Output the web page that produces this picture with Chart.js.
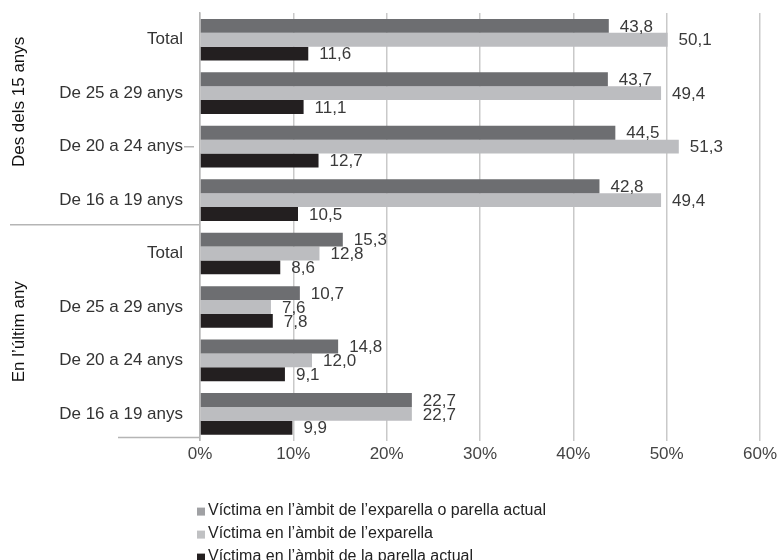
<!DOCTYPE html>
<html>
<head>
<meta charset="utf-8">
<script src="https://cdn.jsdelivr.net/npm/chart.js@4/dist/chart.umd.min.js"></script>
<style>
  html, body { margin: 0; padding: 0; background: #fff; }
</style>
</head>
<body>
<canvas id="myChart" width="777" height="560"></canvas>
<script>
// categories (top to bottom)
const categories = ['Total', 'De 25 a 29 anys', 'De 20 a 24 anys', 'De 16 a 19 anys',
                    'Total', 'De 25 a 29 anys', 'De 20 a 24 anys', 'De 16 a 19 anys'];
const groups = ['Des dels 15 anys', 'En l\u2019últim any'];

const seriesNames = [
    'Víctima en l\u2019àmbit de l\u2019exparella o parella actual',
    'Víctima en l\u2019àmbit de l\u2019exparella',
    'Víctima en l\u2019àmbit de la parella actual'
];
const exOrActual = [43.8, 43.7, 44.5, 42.8, 15.3, 10.7, 14.8, 22.7];
const exOnly     = [50.1, 49.4, 51.3, 49.4, 12.8, 7.6, 12.0, 22.7];
const actual     = [11.6, 11.1, 12.7, 10.5, 8.6, 7.8, 9.1, 9.9];

const xTicks = [0, 10, 20, 30, 40, 50, 60];

const barColors = ['#6d6e71', '#bcbdc0', '#231f20'];
const legendColors = ['#a0a1a4', '#c0c1c3', '#231f20'];
const FONT = "'Liberation Sans', Arial, sans-serif";

function fmt(v) {
    return v.toFixed(1).replace('.', ',');
}

// value labels right of each bar
const valueLabels = {
    id: 'valueLabels',
    afterDatasetsDraw(chart) {
        const c = chart.ctx;
        c.save();
        c.font = '17px ' + FONT;
        c.fillStyle = '#3a3a3a';
        c.textAlign = 'left';
        c.textBaseline = 'middle';
        chart.data.datasets.forEach((ds, i) => {
            const meta = chart.getDatasetMeta(i);
            meta.data.forEach((el, j) => {
                c.fillText(fmt(ds.data[j]), el.x + 11, el.y + 1);
            });
        });
        c.restore();
    }
};

// group titles, separators and legend
const extras = {
    id: 'extras',
    afterDraw(chart) {
        const c = chart.ctx;
        const y = chart.scales.y;
        const area = chart.chartArea;
        c.save();
        // separator between the groups
        const sep = (y.getPixelForValue(3) + y.getPixelForValue(4)) / 2 - 2;
        c.strokeStyle = '#b5b5b5';
        c.lineWidth = 1.5;
        c.beginPath();
        c.moveTo(10, sep);
        c.lineTo(area.left, sep);
        c.moveTo(118, area.bottom - 3);
        c.lineTo(area.left, area.bottom - 3);
        const t = y.getPixelForValue(2);
        c.moveTo(184, t);
        c.lineTo(194, t);
        c.stroke();

        // rotated group titles
        c.font = '17px ' + FONT;
        c.fillStyle = '#111';
        c.textAlign = 'center';
        c.textBaseline = 'middle';
        groups.forEach((g, k) => {
            const mid = (y.getPixelForValue(k * 4) + y.getPixelForValue(k * 4 + 3)) / 2;
            c.save();
            c.translate(19, k === 0 ? mid - 18 : mid - 2);
            c.rotate(-Math.PI / 2);
            c.fillText(g, 0, 0);
            c.restore();
        });

        // legend, one item per line
        c.font = '16px ' + FONT;
        c.textAlign = 'left';
        seriesNames.forEach((name, i) => {
            const ly = area.bottom + 70 + i * 23;
            c.fillStyle = legendColors[i];
            c.fillRect(197, ly - 3, 8, 8);
            c.fillStyle = '#222';
            c.fillText(name, 208, ly);
        });
        c.restore();
    }
};

const ctx = document.getElementById('myChart').getContext('2d');
const myChart = new Chart(ctx, {
    type: 'bar',
    data: {
        labels: categories,
        datasets: [
            { label: seriesNames[0], data: exOrActual, backgroundColor: barColors[0] },
            { label: seriesNames[1], data: exOnly, backgroundColor: barColors[1] },
            { label: seriesNames[2], data: actual, backgroundColor: barColors[2] }
        ]
    },
    options: {
        responsive: false,
        animation: false,
        indexAxis: 'y',
        categoryPercentage: 0.78,
        barPercentage: 1,
        layout: { padding: { top: 13, right: 17, bottom: 91, left: 0 } },
        plugins: {
            legend: { display: false },
            tooltip: { enabled: false }
        },
        scales: {
            x: {
                min: 0,
                max: 60,
                afterBuildTicks: s => { s.ticks = xTicks.map(v => ({ value: v })); },
                afterFit: s => { s.paddingRight = 0; },
                ticks: {
                    callback: v => v + '%',
                    font: { family: FONT, size: 17 },
                    color: '#444',
                    padding: 4
                },
                grid: { color: '#c9c9c9', lineWidth: 1.5, drawTicks: false },
                border: { display: false }
            },
            y: {
                afterFit: s => { s.width = 200; s.paddingTop = 0; s.paddingBottom = 0; },
                ticks: {
                    font: { family: FONT, size: 17 },
                    color: '#333',
                    padding: 17
                },
                grid: { display: false, drawTicks: false },
                border: { color: '#b5b5b5', width: 1.5 }
            }
        }
    },
    plugins: [valueLabels, extras]
});
</script>
</body>
</html>
